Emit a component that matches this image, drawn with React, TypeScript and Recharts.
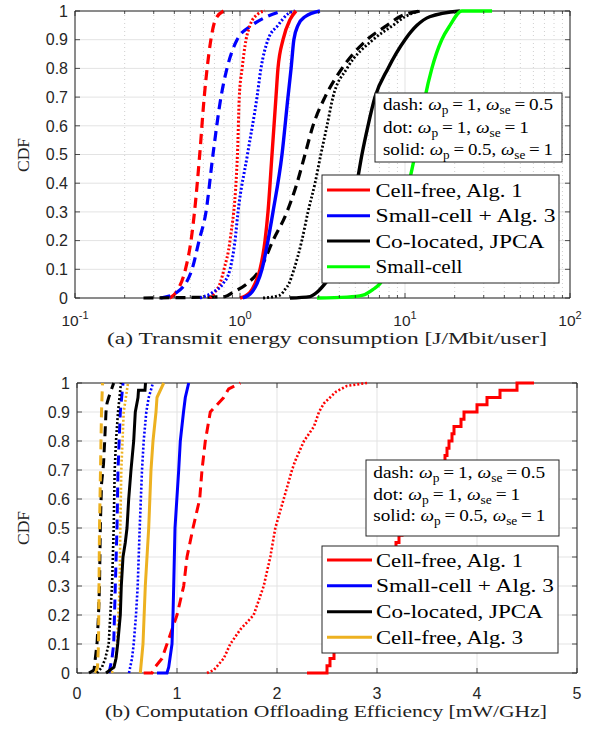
import React from 'react';
import { LineChart, Line, XAxis, YAxis, CartesianGrid, ReferenceArea } from 'recharts';

// ---------------- (a) Transmit energy consumption [J/Mbit/user] ----------------
const aRedDashX = [0.375, 0.41, 0.467, 0.505, 0.53, 0.57, 0.607, 0.632, 0.666, 0.71, 0.795];
const aRedDashY = [0, 0.02, 0.1, 0.2, 0.3, 0.5, 0.7, 0.8, 0.9, 0.97, 1];
const aBlueDashX = [0.33, 0.415, 0.512, 0.565, 0.622, 0.686, 0.767, 0.834, 0.96, 1.18, 1.45, 1.82];
const aBlueDashY = [0, 0.02, 0.1, 0.2, 0.3, 0.5, 0.7, 0.8, 0.9, 0.95, 0.98, 1];
const aBlackDashX = [0.26, 0.81, 0.907, 1.103, 1.322, 1.585, 1.926, 2.215, 2.477, 2.769, 3.274, 4.152, 5.884, 7.78, 9.3, 12.33];
const aBlackDashY = [0, 0.005, 0.02, 0.05, 0.1, 0.2, 0.3, 0.4, 0.5, 0.6, 0.7, 0.8, 0.9, 0.95, 0.98, 1];

const aRedDotX = [0.658, 0.705, 0.756, 0.8, 0.87, 0.965, 0.99, 1.03, 1.088, 1.15, 1.286, 1.418];
const aRedDotY = [0, 0.02, 0.05, 0.1, 0.2, 0.5, 0.7, 0.8, 0.9, 0.95, 0.99, 1];
const aBlueDotX = [0.573, 0.686, 0.789, 0.87, 0.933, 0.973, 1.11, 1.268, 1.34, 1.478, 1.699, 1.953, 2.154];
const aBlueDotY = [0, 0.02, 0.05, 0.1, 0.2, 0.3, 0.5, 0.7, 0.8, 0.9, 0.95, 0.99, 1];
const aBlackDotX = [1.38, 1.75, 1.875, 1.98, 2.125, 2.37, 2.583, 2.849, 3.09, 3.367, 3.66, 4.45, 6.4, 8.46, 10.0, 12.33];
const aBlackDotY = [0, 0.01, 0.03, 0.05, 0.1, 0.2, 0.3, 0.4, 0.5, 0.6, 0.7, 0.8, 0.9, 0.95, 0.98, 1];

const aRedSolidX = [1.0, 1.15, 1.233, 1.322, 1.418, 1.478, 1.563, 1.652, 1.699, 1.823, 2.009, 2.185];
const aRedSolidY = [0, 0.02, 0.05, 0.1, 0.2, 0.3, 0.5, 0.7, 0.8, 0.9, 0.97, 1];
const aBlueSolidX = [1.04, 1.18, 1.268, 1.359, 1.478, 1.585, 1.797, 1.953, 2.04, 2.12, 2.246, 2.477, 3.05];
const aBlueSolidY = [0, 0.02, 0.05, 0.1, 0.2, 0.3, 0.5, 0.7, 0.8, 0.9, 0.95, 0.98, 1];
const aBlackSolidX = [2.009, 2.656, 2.929, 3.274, 3.764, 4.329, 4.771, 5.115, 5.484, 5.966, 6.579, 7.89, 10.0, 11.82, 14.1, 21.54];
const aBlackSolidY = [0, 0.005, 0.02, 0.05, 0.1, 0.2, 0.3, 0.4, 0.5, 0.6, 0.7, 0.8, 0.9, 0.95, 0.98, 1];
const aGreenSolidX = [2.93, 4.45, 5.56, 6.4, 7.05, 7.89, 8.93, 9.85, 10.58, 11.5, 12.33, 13.24, 14.55, 16.7, 18.74, 22.1, 33.7];
const aGreenSolidY = [0, 0.003, 0.01, 0.03, 0.05, 0.1, 0.2, 0.3, 0.4, 0.5, 0.6, 0.7, 0.8, 0.9, 0.95, 1, 1];

const aXMajorTicks = [0.1, 1, 10, 100];
const aXTickExponents = ['-1', '0', '1', '2'];
const aXMinorTicks = [0.2, 0.3, 0.4, 0.5, 0.6, 0.7, 0.8, 0.9, 2, 3, 4, 5, 6, 7, 8, 9, 20, 30, 40, 50, 60, 70, 80, 90];

// ---------------- (b) Computation Offloading Efficiency [mW/GHz] ----------------
const bOrangeDashX = [0.185, 0.205, 0.215, 0.225, 0.245, 0.255];
const bOrangeDashY = [0, 0.02, 0.1, 0.5, 0.9, 1];
const bBlackDashX = [0.12, 0.17, 0.183, 0.2, 0.215, 0.225, 0.233, 0.245, 0.265, 0.277, 0.29, 0.3, 0.317, 0.367];
const bBlackDashY = [0, 0.01, 0.05, 0.1, 0.2, 0.3, 0.5, 0.65, 0.72, 0.8, 0.9, 0.93, 0.95, 1];
const bBlueDashX = [0.32, 0.35, 0.367, 0.383, 0.4, 0.41, 0.433, 0.46];
const bBlueDashY = [0, 0.05, 0.1, 0.3, 0.5, 0.7, 0.9, 1];
const bRedDashX = [0.667, 0.75, 0.78, 0.85, 0.9, 1.0, 1.067, 1.1, 1.16, 1.227, 1.25, 1.283, 1.333, 1.467, 1.517, 1.633];
const bRedDashY = [0, 0, 0.02, 0.05, 0.1, 0.2, 0.3, 0.4, 0.5, 0.6, 0.7, 0.8, 0.9, 0.95, 0.98, 1];

const bBlackDotX = [0.2, 0.25, 0.283, 0.317, 0.333, 0.35, 0.367, 0.377, 0.39, 0.41, 0.44];
const bBlackDotY = [0, 0.02, 0.05, 0.1, 0.2, 0.3, 0.5, 0.7, 0.8, 0.9, 1];
const bOrangeDotX = [0.35, 0.39, 0.4, 0.427, 0.433, 0.443, 0.467, 0.51];
const bOrangeDotY = [0, 0.05, 0.1, 0.3, 0.5, 0.7, 0.9, 1];
const bBlueDotX = [0.52, 0.55, 0.567, 0.59, 0.607, 0.627, 0.65, 0.667, 0.693, 0.717, 0.76];
const bBlueDotY = [0, 0.05, 0.1, 0.2, 0.3, 0.5, 0.7, 0.8, 0.9, 0.95, 1];
const bRedDotX = [1.3, 1.367, 1.467, 1.533, 1.633, 1.767, 1.867, 1.933, 1.983, 2.067, 2.15, 2.18, 2.27, 2.37, 2.42, 2.47, 2.59, 2.7, 2.9];
const bRedDotY = [0, 0.01, 0.05, 0.1, 0.15, 0.2, 0.3, 0.4, 0.5, 0.6, 0.7, 0.73, 0.8, 0.85, 0.9, 0.93, 0.97, 0.99, 1];

const bBlackSolidX = [0.29, 0.37, 0.39, 0.407, 0.433, 0.443, 0.46, 0.483, 0.5, 0.517, 0.54, 0.567, 0.583, 0.61, 0.615, 0.68, 0.685];
const bBlackSolidY = [0, 0.02, 0.05, 0.1, 0.2, 0.3, 0.4, 0.45, 0.5, 0.6, 0.7, 0.8, 0.9, 0.95, 0.975, 0.975, 1];
const bOrangeSolidX = [0.633, 0.66, 0.683, 0.717, 0.74, 0.76, 0.79, 0.8, 0.867];
const bOrangeSolidY = [0, 0.1, 0.3, 0.5, 0.7, 0.8, 0.9, 0.95, 1];
const bBlueSolidX = [0.8, 0.9, 0.917, 0.95, 0.96, 0.967, 0.98, 1.017, 1.033, 1.065, 1.083, 1.117];
const bBlueSolidY = [0, 0, 0.02, 0.1, 0.2, 0.3, 0.5, 0.7, 0.8, 0.9, 0.95, 1];
const bRedSolidX = [2.3, 2.5, 2.53, 2.57, 2.6, 2.66, 2.71, 2.76, 2.8, 2.84, 2.88, 2.92, 2.96, 3.0, 3.03, 3.07, 3.11, 3.15, 3.19, 3.22, 3.25, 3.29, 3.32, 3.35, 3.37, 3.43, 3.47, 3.53, 3.6, 3.66, 3.68, 3.7, 3.72, 3.75, 3.77, 3.84, 3.87, 4.0, 4.1, 4.23, 4.4, 4.57];
const bRedSolidY = [0, 0.025, 0.05, 0.075, 0.1, 0.125, 0.15, 0.175, 0.2, 0.225, 0.25, 0.275, 0.3, 0.325, 0.35, 0.375, 0.4, 0.425, 0.45, 0.475, 0.5, 0.525, 0.55, 0.575, 0.6, 0.625, 0.65, 0.675, 0.7, 0.725, 0.75, 0.775, 0.8, 0.825, 0.85, 0.875, 0.9, 0.925, 0.95, 0.975, 1, 1];

const bXTicks = [0, 1, 2, 3, 4, 5];
const bXTickLabels = ['0', '1', '2', '3', '4', '5'];

const yTicks = [0, 0.1, 0.2, 0.3, 0.4, 0.5, 0.6, 0.7, 0.8, 0.9, 1];
const yTickLabels = ['0', '0.1', '0.2', '0.3', '0.4', '0.5', '0.6', '0.7', '0.8', '0.9', '1'];

const legendA = ['Cell-free, Alg. 1', 'Small-cell + Alg. 3', 'Co-located, JPCA', 'Small-cell'];
const legendB = ['Cell-free, Alg. 1', 'Small-cell + Alg. 3', 'Co-located, JPCA', 'Cell-free, Alg. 3'];
const noteStyles = ['dash', 'dot', 'solid'];
const noteWp = ['1', '1', '0.5'];
const noteWse = ['0.5', '1', '1'];
const captionA = '(a) Transmit energy consumption [J/Mbit/user]';
const captionB = '(b) Computation Offloading Efficiency [mW/GHz]';
const yLabel = 'CDF';

// ---------------- styling ----------------
const RED = '#ff0000';
const BLUE = '#0000ff';
const BLACK = '#000000';
const GREEN = '#00ff00';
const ORANGE = '#EDB120';
const AX = '#262626';
const GRID = '#e3e3e3';
const MINOR = '#c4c4c4';
const SANS = "'Liberation Sans', Arial, Helvetica, sans-serif";
const SERIF = "'Liberation Serif', 'Times New Roman', serif";
const DASH = '10 6';
const DOT = '2 2';

const zip = (xs: number[], ys: number[]) => xs.map((x, i) => ({ x, y: ys[i] }));

// layout (chart-local coordinates)
const A = { w: 599, h: 365, left: 75, right: 570, top: 11, bottom: 298 };
const B = { w: 599, h: 365, left: 77, right: 577, top: 18, bottom: 308 };

function makeLogXTick() {
  return (props: any) => {
    const { x, payload } = props;
    const v = payload.value;
    const idx = aXMajorTicks.indexOf(v);
    const major = idx >= 0;
    const len = major ? 5 : 3;
    return (
      <g>
        <line x1={x} x2={x} y1={A.bottom} y2={A.bottom - len} stroke={AX} strokeWidth={0.8} />
        <line x1={x} x2={x} y1={A.top} y2={A.top + len} stroke={AX} strokeWidth={0.8} />
        {major && (
          <text x={x} y={A.bottom + 28} textAnchor="middle" fontFamily={SANS} fontSize={15.5} fill={AX}>
            10
            <tspan dy={-7} fontSize={11}>{aXTickExponents[idx]}</tspan>
          </text>
        )}
      </g>
    );
  };
}

function makeLinXTick() {
  return (props: any) => {
    const { x, payload } = props;
    const idx = bXTicks.indexOf(payload.value);
    return (
      <g>
        <line x1={x} x2={x} y1={B.bottom} y2={B.bottom - 5} stroke={AX} strokeWidth={0.8} />
        <line x1={x} x2={x} y1={B.top} y2={B.top + 5} stroke={AX} strokeWidth={0.8} />
        <text x={x} y={B.bottom + 26} textAnchor="middle" fontFamily={SANS} fontSize={16} fill={AX}>
          {bXTickLabels[idx]}
        </text>
      </g>
    );
  };
}

function makeYTick(L: { left: number; right: number }) {
  return (props: any) => {
    const { y, payload } = props;
    const idx = yTicks.indexOf(payload.value);
    return (
      <g>
        <line x1={L.left} x2={L.left + 5} y1={y} y2={y} stroke={AX} strokeWidth={0.8} />
        <line x1={L.right} x2={L.right - 5} y1={y} y2={y} stroke={AX} strokeWidth={0.8} />
        <text x={L.left - 7} y={y} dy="0.36em" textAnchor="end" fontFamily={SANS} fontSize={16} fill={AX}>
          {yTickLabels[idx]}
        </text>
      </g>
    );
  };
}

const lineProps = { dot: false, activeDot: false, isAnimationActive: false, legendType: 'none' as const };

function ChartA() {
  return (
    <LineChart width={A.w} height={A.h} margin={{ top: A.top, right: A.w - A.right, left: 0, bottom: 0 }}>
      <CartesianGrid horizontal={false} verticalValues={aXMinorTicks} stroke={MINOR} strokeDasharray="1 3" strokeWidth={0.8} />
      <CartesianGrid horizontalValues={yTicks} verticalValues={aXMajorTicks} stroke={GRID} strokeWidth={1} />
      <XAxis
        dataKey="x"
        type="number"
        scale="log"
        domain={[0.1, 100]}
        allowDataOverflow
        ticks={[...aXMajorTicks, ...aXMinorTicks]}
        interval={0}
        tick={makeLogXTick()}
        tickLine={false}
        axisLine={false}
        tickSize={0}
        tickMargin={0}
        height={A.h - A.bottom}
      />
      <YAxis
        dataKey="y"
        type="number"
        domain={[0, 1]}
        ticks={yTicks}
        interval={0}
        tick={makeYTick(A)}
        tickLine={false}
        axisLine={false}
        tickSize={0}
        tickMargin={0}
        width={A.left}
      />
      <Line {...lineProps} data={zip(aRedDashX, aRedDashY)} dataKey="y" type="monotone" stroke={RED} strokeWidth={3.2} strokeDasharray={DASH} />
      <Line {...lineProps} data={zip(aBlueDashX, aBlueDashY)} dataKey="y" type="monotone" stroke={BLUE} strokeWidth={3.2} strokeDasharray={DASH} />
      <Line {...lineProps} data={zip(aBlackDashX, aBlackDashY)} dataKey="y" type="monotone" stroke={BLACK} strokeWidth={3.2} strokeDasharray={DASH} />
      <Line {...lineProps} data={zip(aRedDotX, aRedDotY)} dataKey="y" type="monotone" stroke={RED} strokeWidth={3} strokeDasharray={DOT} />
      <Line {...lineProps} data={zip(aBlueDotX, aBlueDotY)} dataKey="y" type="monotone" stroke={BLUE} strokeWidth={3} strokeDasharray={DOT} />
      <Line {...lineProps} data={zip(aBlackDotX, aBlackDotY)} dataKey="y" type="monotone" stroke={BLACK} strokeWidth={2.8} strokeDasharray={DOT} />
      <Line {...lineProps} data={zip(aRedSolidX, aRedSolidY)} dataKey="y" type="monotone" stroke={RED} strokeWidth={3.4} />
      <Line {...lineProps} data={zip(aBlueSolidX, aBlueSolidY)} dataKey="y" type="monotone" stroke={BLUE} strokeWidth={3.4} />
      <Line {...lineProps} data={zip(aBlackSolidX, aBlackSolidY)} dataKey="y" type="monotone" stroke={BLACK} strokeWidth={3.4} />
      <Line {...lineProps} data={zip(aGreenSolidX, aGreenSolidY)} dataKey="y" type="monotone" stroke={GREEN} strokeWidth={3.4} />
      <ReferenceArea x1={0.1} x2={100} y1={0} y2={1} fill="none" stroke={AX} strokeWidth={1} ifOverflow="visible" />
    </LineChart>
  );
}

function ChartB() {
  return (
    <LineChart width={B.w} height={B.h} margin={{ top: B.top, right: B.w - B.right, left: 0, bottom: 0 }}>
      <CartesianGrid horizontalValues={yTicks} verticalValues={bXTicks} stroke={GRID} strokeWidth={1} />
      <XAxis
        dataKey="x"
        type="number"
        domain={[0, 5]}
        allowDataOverflow
        ticks={bXTicks}
        interval={0}
        tick={makeLinXTick()}
        tickLine={false}
        axisLine={false}
        tickSize={0}
        tickMargin={0}
        height={B.h - B.bottom}
      />
      <YAxis
        dataKey="y"
        type="number"
        domain={[0, 1]}
        ticks={yTicks}
        interval={0}
        tick={makeYTick(B)}
        tickLine={false}
        axisLine={false}
        tickSize={0}
        tickMargin={0}
        width={B.left}
      />
      <Line {...lineProps} data={zip(bRedDashX, bRedDashY)} dataKey="y" type="linear" stroke={RED} strokeWidth={3} strokeDasharray={DASH} />
      <Line {...lineProps} data={zip(bBlueDashX, bBlueDashY)} dataKey="y" type="linear" stroke={BLUE} strokeWidth={3} strokeDasharray={DASH} />
      <Line {...lineProps} data={zip(bBlackDashX, bBlackDashY)} dataKey="y" type="linear" stroke={BLACK} strokeWidth={3} strokeDasharray={DASH} />
      <Line {...lineProps} data={zip(bOrangeDashX, bOrangeDashY)} dataKey="y" type="linear" stroke={ORANGE} strokeWidth={3} strokeDasharray={DASH} />
      <Line {...lineProps} data={zip(bRedDotX, bRedDotY)} dataKey="y" type="linear" stroke={RED} strokeWidth={2.6} strokeDasharray={DOT} />
      <Line {...lineProps} data={zip(bBlueDotX, bBlueDotY)} dataKey="y" type="linear" stroke={BLUE} strokeWidth={2.6} strokeDasharray={DOT} />
      <Line {...lineProps} data={zip(bBlackDotX, bBlackDotY)} dataKey="y" type="linear" stroke={BLACK} strokeWidth={2.6} strokeDasharray={DOT} />
      <Line {...lineProps} data={zip(bOrangeDotX, bOrangeDotY)} dataKey="y" type="linear" stroke={ORANGE} strokeWidth={2.6} strokeDasharray={DOT} />
      <Line {...lineProps} data={zip(bRedSolidX, bRedSolidY)} dataKey="y" type="stepAfter" stroke={RED} strokeWidth={3} />
      <Line {...lineProps} data={zip(bBlueSolidX, bBlueSolidY)} dataKey="y" type="linear" stroke={BLUE} strokeWidth={3} />
      <Line {...lineProps} data={zip(bBlackSolidX, bBlackSolidY)} dataKey="y" type="linear" stroke={BLACK} strokeWidth={3} />
      <Line {...lineProps} data={zip(bOrangeSolidX, bOrangeSolidY)} dataKey="y" type="linear" stroke={ORANGE} strokeWidth={3} />
      <ReferenceArea x1={0} x2={5} y1={0} y2={1} fill="none" stroke={AX} strokeWidth={1} ifOverflow="visible" />
    </LineChart>
  );
}

function NoteBox(props: { x: number; y: number; w: number; h: number; tx: number; baselines: number[]; widths: number[] }) {
  const { x, y, w, h, tx, baselines, widths } = props;
  return (
    <g>
      <rect x={x} y={y} width={w} height={h} fill="#fff" stroke={AX} strokeWidth={1} />
      {noteStyles.map((s, i) => (
        <text key={s} x={tx} y={baselines[i]} fontFamily={SERIF} fontSize={16.5} fill="#000" textLength={widths[i]} lengthAdjust="spacingAndGlyphs">
          <tspan>{s + ': '}</tspan>
          <tspan fontStyle="italic">ω</tspan>
          <tspan fontSize={11.5} dy={4}>p</tspan>
          <tspan dy={-4}>{'\u2009=\u2009' + noteWp[i] + ', '}</tspan>
          <tspan fontStyle="italic">ω</tspan>
          <tspan fontSize={11.5} dy={4}>se</tspan>
          <tspan dy={-4}>{'\u2009=\u2009' + noteWse[i]}</tspan>
        </text>
      ))}
    </g>
  );
}

function LegendBox(props: { x: number; y: number; w: number; h: number; labels: string[]; colors: string[]; centers: number[]; widths: number[]; lx1: number; lx2: number; tx: number }) {
  const { x, y, w, h, labels, colors, centers, widths, lx1, lx2, tx } = props;
  return (
    <g>
      <rect x={x} y={y} width={w} height={h} fill="#fff" stroke={AX} strokeWidth={1} />
      {labels.map((lab, i) => (
        <g key={i}>
          <line x1={lx1} x2={lx2} y1={centers[i]} y2={centers[i]} stroke={colors[i]} strokeWidth={3} />
          <text x={tx} y={centers[i] + 6.7} fontFamily={SERIF} fontSize={19} fill="#000" textLength={widths[i]} lengthAdjust="spacingAndGlyphs">
            {lab}
          </text>
        </g>
      ))}
    </g>
  );
}

export default function App() {
  return (
    <div style={{ position: 'absolute', left: 0, top: 0, width: 599, height: 730, background: '#fff', overflow: 'hidden' }}>
      <div style={{ position: 'absolute', left: 0, top: 0 }}>
        <ChartA />
      </div>
      <div style={{ position: 'absolute', left: 0, top: 365 }}>
        <ChartB />
      </div>
      <svg width={599} height={730} style={{ position: 'absolute', left: 0, top: 0, pointerEvents: 'none' }}>
        <text x={107} y={344} fontFamily={SERIF} fontSize={17.5} fill="#222" textLength={440} lengthAdjust="spacingAndGlyphs">
          {captionA}
        </text>
        <text x={105} y={716.5} fontFamily={SERIF} fontSize={17.5} fill="#222" textLength={442} lengthAdjust="spacingAndGlyphs">
          {captionB}
        </text>
        <text x={29} y={155} transform="rotate(-90 29 155)" textAnchor="middle" fontFamily={SERIF} fontSize={17.5} fill="#222">
          {yLabel}
        </text>
        <text x={29} y={528} transform="rotate(-90 29 528)" textAnchor="middle" fontFamily={SERIF} fontSize={17.5} fill="#222">
          {yLabel}
        </text>
        <NoteBox x={375} y={93} w={187} h={69} tx={383} baselines={[110, 132.5, 155]} widths={[170, 146, 170]} />
        <LegendBox
          x={322} y={175} w={237} h={108}
          labels={legendA} colors={[RED, BLUE, BLACK, GREEN]}
          centers={[190, 215.7, 241, 266.7]} widths={[147, 180, 169, 87]}
          lx1={327} lx2={370} tx={375.5}
        />
        <NoteBox x={366} y={460} w={193} h={76} tx={373.3} baselines={[478.3, 500, 521.3]} widths={[172, 147, 172]} />
        <LegendBox
          x={322} y={546} w={236} h={107}
          labels={legendB} colors={[RED, BLUE, BLACK, ORANGE]}
          centers={[560, 585.7, 611.7, 637.3]} widths={[147, 178, 167, 147]}
          lx1={327} lx2={372} tx={376}
        />
      </svg>
    </div>
  );
}
